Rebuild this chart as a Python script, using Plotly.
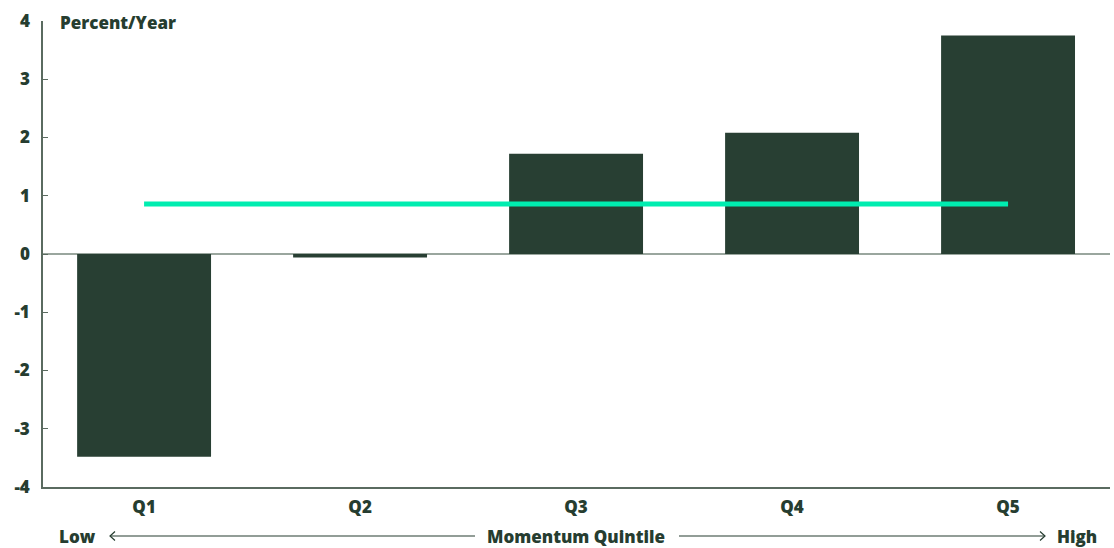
import plotly.graph_objects as go

# Annualised excess return by momentum quintile
quintiles = ["Q1", "Q2", "Q3", "Q4", "Q5"]
returns = [-3.48, -0.06, 1.72, 2.08, 3.75]
average_return = 0.86
y_ticks = [-4, -3, -2, -1, 0, 1, 2, 3, 4]

DARK = "#283F33"
TEXT = "#263D30"
MINT = "#00EDB0"
AXIS = "#5A6B60"
FONT = "Open Sans"
FS = 17

W, H = 1114, 548
ML, MR, MT, MB = 43, 4, 21, 61
PW, PH = W - ML - MR, H - MT - MB


def px_x(px):
    return (px - ML) / PW


def px_y(py):
    return (H - MB - py) / PH


bold = dict(family=FONT, size=FS, color=TEXT, weight=800)

fig = go.Figure()

fig.add_trace(go.Bar(
    x=quintiles, y=returns, width=0.62,
    marker=dict(color=DARK, line=dict(width=0)),
    showlegend=False, hoverinfo="x+y",
))

fig.add_trace(go.Scatter(
    x=[quintiles[0], quintiles[-1]], y=[average_return, average_return],
    mode="lines", line=dict(color=MINT, width=5),
    showlegend=False, hoverinfo="y",
))

fig.update_layout(
    width=W, height=H,
    margin=dict(l=ML, r=MR, t=MT, b=MB, pad=0),
    paper_bgcolor="white", plot_bgcolor="white",
    font=dict(family=FONT, color=TEXT, size=FS),
    xaxis=dict(
        range=[-0.468, 4.472], showgrid=False, zeroline=False,
        showline=True, linecolor=AXIS, linewidth=2,
        ticks="", tickfont=bold,
        ticklabelstandoff=4, fixedrange=True,
    ),
    yaxis=dict(
        range=[-4, 4], tickvals=y_ticks, ticktext=[str(v) for v in y_ticks],
        showgrid=False, zeroline=True, zerolinecolor="#9AA69E", zerolinewidth=1.5,
        showline=True, linecolor=AXIS, linewidth=1.5,
        ticks="inside", ticklen=5, tickcolor=AXIS, tickwidth=1,
        tickfont=bold,
        ticklabelstandoff=8, fixedrange=True,
    ),
)

# Unit label at the top of the value axis
fig.add_annotation(
    text="Percent/Year", xref="paper", yref="paper",
    x=px_x(58), y=px_y(22), xanchor="left", yanchor="middle",
    showarrow=False, font=bold,
)

# Direction row beneath the categories
ROW = 536
row_y = px_y(ROW)
for label, px, anchor in [("Low", 58, "left"), ("Momentum Quintile", 576, "center"), ("High", 1098, "right")]:
    fig.add_annotation(
        text=label, xref="paper", yref="paper", x=px_x(px), y=row_y,
        xanchor=anchor, yanchor="middle", showarrow=False, font=bold,
        borderpad=0,
    )

line_style = dict(color=TEXT, width=1.2)
for x0, x1 in [(110, 475), (679, 1045)]:
    fig.add_shape(type="line", xref="paper", yref="paper",
                  x0=px_x(x0), x1=px_x(x1), y0=row_y, y1=row_y, line=line_style)

# Open chevrons at both ends
dx, dy = 5, 4.5
fig.add_shape(type="path", xref="paper", yref="paper", line=line_style,
              path=f"M {px_x(110 + dx)},{px_y(ROW - dy)} L {px_x(110)},{row_y} L {px_x(110 + dx)},{px_y(ROW + dy)}")
fig.add_shape(type="path", xref="paper", yref="paper", line=line_style,
              path=f"M {px_x(1045 - dx)},{px_y(ROW - dy)} L {px_x(1045)},{row_y} L {px_x(1045 - dx)},{px_y(ROW + dy)}")

fig.write_html("out.html")
